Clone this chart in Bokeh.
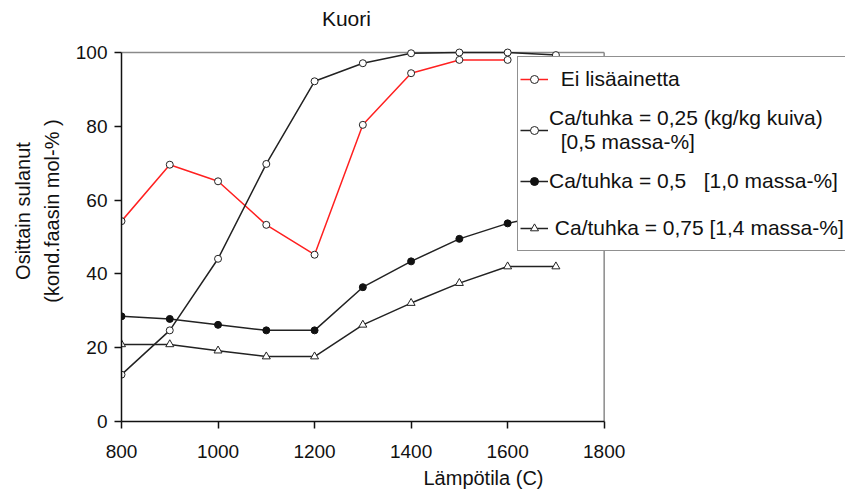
from bokeh.plotting import figure
from bokeh.models import Range1d, Legend, LegendItem, Span, Label
from bokeh.embed import file_html
from bokeh.resources import INLINE

# ---- data ----
temps = [800, 900, 1000, 1100, 1200, 1300, 1400, 1500, 1600, 1700]
ei_temps = [800, 900, 1000, 1100, 1200, 1300, 1400, 1500, 1600]
ei_lisaainetta = [54.3, 69.6, 65.1, 53.3, 45.2, 80.4, 94.4, 98.0, 98.0]
ca_025 = [12.7, 24.7, 44.1, 69.8, 92.2, 97.1, 99.8, 100.0, 100.0, 99.3]
ca_05 = [28.5, 27.8, 26.2, 24.7, 24.7, 36.4, 43.4, 49.5, 53.7, 56.5]
ca_075 = [20.9, 20.9, 19.2, 17.6, 17.6, 26.2, 32.1, 37.5, 42.0, 42.0]

x_ticks = [800, 1000, 1200, 1400, 1600, 1800]
y_ticks = [0, 20, 40, 60, 80, 100]
x_axis_min, x_axis_max = 800, 1800
y_axis_min, y_axis_max = 0, 100
x_view_max = 2300   # room on the right for the legend box
y_view_max = 114.1  # room above for the title

labels = [
    "\u00a0\u00a0Ei lisäainetta",
    "Ca/tuhka = 0,25 (kg/kg kuiva)\n\u00a0\u00a0[0,5 massa-%]",
    "Ca/tuhka = 0,5 \u00a0\u00a0[1,0 massa-%]",
    "\u00a0Ca/tuhka = 0,75 [1,4 massa-%]",
]
title_text = "Kuori"
title_x, title_y = 1266, 109.1
x_label = "Lämpötila (C)"
y_label = "Osittain sulanut\n(kond.faasin mol-% )"

FONT = "Liberation Sans"
FRAME_GREY = "#8a8a8a"

p = figure(width=845, height=493,
           x_range=Range1d(x_axis_min, x_view_max),
           y_range=Range1d(y_axis_min, y_view_max),
           output_backend="svg", toolbar_location=None,
           min_border_left=121, min_border_right=0,
           min_border_top=0, min_border_bottom=72)

p.xgrid.visible = False
p.ygrid.visible = False
p.outline_line_color = None
p.background_fill_color = "white"
p.border_fill_color = "white"

for ax in (p.xaxis[0], p.yaxis[0]):
    ax.axis_line_color = "#111111"
    ax.axis_line_width = 1.5
    ax.major_tick_line_color = "#111111"
    ax.major_tick_line_width = 1.5
    ax.major_tick_in = 0
    ax.major_tick_out = 7
    ax.minor_tick_line_color = None
    ax.major_label_text_font = FONT
    ax.major_label_text_font_size = "19px"
    ax.major_label_text_color = "#111111"
    ax.axis_label_text_font = FONT
    ax.axis_label_text_font_size = "20px"
    ax.axis_label_text_font_style = "normal"
    ax.axis_label_text_color = "#111111"

p.xaxis.ticker = x_ticks
p.yaxis.ticker = y_ticks
p.xaxis.bounds = (x_axis_min, x_axis_max)
p.yaxis.bounds = (y_axis_min, y_axis_max)
p.xaxis.axis_label = x_label
p.yaxis.axis_label = y_label
p.xaxis.major_label_standoff = 16
p.xaxis.axis_label_standoff = 6
p.yaxis.major_label_standoff = 7
p.yaxis.axis_label_standoff = 10
p.yaxis.axis_label_text_line_height = 1.3

# grey top and right borders of the plot area
p.segment(x0=[x_axis_min], y0=[y_axis_max], x1=[x_axis_max], y1=[y_axis_max],
          line_color=FRAME_GREY, line_width=1.5)
p.segment(x0=[x_axis_max], y0=[y_axis_min], x1=[x_axis_max], y1=[y_axis_max],
          line_color=FRAME_GREY, line_width=1.5)

# ---- series ----
r_ei_l = p.line(ei_temps, ei_lisaainetta, line_color="#ff2020", line_width=1.5)
r_ei_m = p.scatter(ei_temps, ei_lisaainetta, marker="circle", size=7,
                   fill_color="white", line_color="#222222", line_width=1)

r_a_l = p.line(temps, ca_025, line_color="#222222", line_width=1.5)
r_a_m = p.scatter(temps, ca_025, marker="circle", size=7,
                  fill_color="white", line_color="#222222", line_width=1)

r_b_l = p.line(temps, ca_05, line_color="#222222", line_width=1.5)
r_b_m = p.scatter(temps, ca_05, marker="circle", size=7,
                  fill_color="#111111", line_color="#111111", line_width=1)

r_c_l = p.line(temps, ca_075, line_color="#222222", line_width=1.5)
r_c_m = p.scatter(temps, ca_075, marker="triangle", size=8,
                  fill_color="white", line_color="#222222", line_width=1)

legend = Legend(items=[
    LegendItem(label=labels[0], renderers=[r_ei_l, r_ei_m]),
    LegendItem(label=labels[1], renderers=[r_a_l, r_a_m]),
    LegendItem(label=labels[2], renderers=[r_b_l, r_b_m]),
    LegendItem(label=labels[3], renderers=[r_c_l, r_c_m]),
], location=(396, 170))
legend.padding = 2
legend.spacing = 7
legend.glyph_width = 28
legend.glyph_height = 20
legend.label_height = 40
legend.label_standoff = 1
legend.label_text_font = FONT
legend.label_text_font_size = "21px"
legend.label_text_color = "#111111"
legend.label_text_line_height = 1.2
legend.border_line_color = "#222222"
legend.border_line_width = 1.5
legend.background_fill_color = "white"
legend.background_fill_alpha = 1.0
legend.margin = 0
p.add_layout(legend)

p.add_layout(Label(x=title_x, y=title_y, text=title_text,
                   text_align="center", text_baseline="middle",
                   text_font=FONT, text_font_size="21px",
                   text_color="#111111"))

open("out.html", "w").write(file_html(p, INLINE))
